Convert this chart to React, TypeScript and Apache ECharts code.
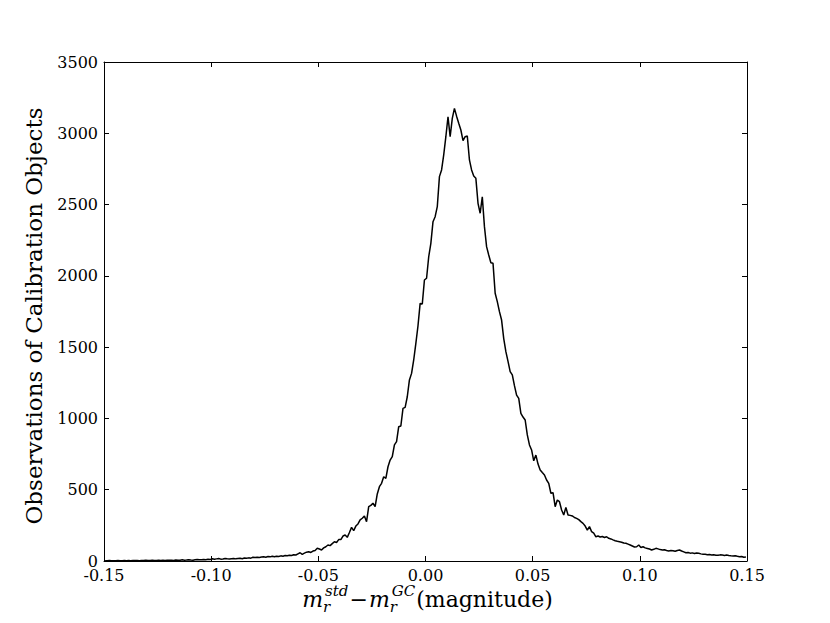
import { useEffect, useRef } from "react";
import * as echarts from "echarts";

// Histogram: bins of width 0.001 from -0.15 to 0.15 (300 bins)
const binStart = -0.15;
const binWidth = 0.001;

const counts: number[] = [
  // -0.1495 .. -0.1005
  2, 1, 3, 2, 1, 2, 3, 1, 2, 4,
  2, 3, 2, 3, 4, 3, 2, 4, 3, 5,
  3, 4, 5, 3, 4, 6, 4, 5, 4, 6,
  5, 6, 4, 7, 5, 6, 8, 6, 7, 9,
  7, 6, 8, 10, 8, 9, 11, 9, 12, 10,
  // -0.0995 .. -0.0805
  16, 12, 15, 18, 13, 14, 17, 15, 14, 16,
  18, 15, 17, 19, 16, 21, 19, 22, 20, 26,
  // -0.0795 .. -0.0605
  24, 27, 25, 28, 30, 27, 31, 29, 33, 30,
  34, 32, 36, 34, 38, 37, 41, 39, 44, 42,
  // -0.0595 .. -0.0405
  50, 58, 47, 55, 62, 65, 60, 70, 74, 89,
  84, 77, 92, 100, 112, 108, 122, 135, 130, 150,
  // -0.0395 .. -0.0205
  150, 175, 182, 166, 200, 236, 213, 245, 260, 288,
  300, 316, 276, 381, 390, 405, 381, 470, 521, 545,
  // -0.0195 .. -0.0005
  591, 580, 661, 708, 732, 814, 837, 942, 947, 1071,
  1078, 1152, 1270, 1316, 1410, 1527, 1650, 1807, 1803, 1971,
  // 0.0005 .. 0.0195
  1983, 2134, 2228, 2380, 2415, 2485, 2696, 2743, 2848, 2976,
  3116, 2976, 3105, 3175, 3120, 3070, 3023, 2948, 2976, 2981,
  // 0.0205 .. 0.0395
  2813, 2743, 2700, 2684, 2509, 2439, 2555, 2345, 2205, 2146,
  2092, 2088, 1878, 1819, 1749, 1690, 1560, 1468, 1400, 1328,
  // 0.0405 .. 0.0595
  1305, 1230, 1164, 1141, 1036, 1010, 989, 884, 814, 779,
  703, 743, 680, 638, 620, 603, 568, 545, 475, 479,
  // 0.0605 .. 0.0795
  381, 428, 416, 358, 323, 376, 323, 320, 316, 305,
  299, 290, 276, 264, 245, 217, 241, 206, 195, 170,
  // 0.0805 .. 0.0995
  175, 168, 172, 165, 170, 159, 155, 148, 142, 138,
  135, 132, 126, 124, 118, 112, 105, 98, 100, 112,
  // 0.1005 .. 0.1195
  95, 100, 92, 88, 84, 77, 82, 89, 85, 80,
  77, 79, 74, 70, 73, 72, 68, 74, 77, 70,
  // 0.1205 .. 0.1495
  64, 58, 60, 55, 57, 52, 56, 54, 50, 48,
  47, 44, 46, 42, 44, 41, 40, 43, 42, 39,
  42, 38, 36, 35, 37, 33, 30, 32, 26, 28,
];

const xMin = -0.15;
const xMax = 0.15;
const xInterval = 0.05;
const yMin = 0;
const yMax = 3500;
const yInterval = 500;

const yTitle = "Observations of Calibration Objects";

const SERIF = '"DejaVu Serif", serif';

export default function App() {
  const ref = useRef<HTMLDivElement>(null);

  useEffect(() => {
    document.body.style.margin = "0";
    const el = ref.current!;
    const chart = echarts.init(el, null, { renderer: "svg" });

    const data = counts.map((c, i) => [binStart + binWidth * (i + 0.5), c]);

    // Build the x-axis mathtext label: m_r^{std} − m_r^{GC}(magnitude)
    const cnv = document.createElement("canvas");
    const ctx = cnv.getContext("2d")!;
    const M = 22;
    const S = 15;
    const measure = (t: string, size: number, italic: boolean) => {
      ctx.font = `${italic ? "italic " : ""}${size}px "DejaVu Serif"`;
      return ctx.measureText(t).width;
    };
    type Piece = { text: string; size: number; italic: boolean; dy: number; dx: number };
    const mainY = 599;
    const supY = 591;
    const subY = 607;
    const pieces: { items: Piece[] }[] = [
      { items: [{ text: "m", size: M, italic: true, dy: mainY, dx: 0 }] },
      {
        items: [
          { text: "std", size: S, italic: true, dy: supY, dx: 1 },
          { text: "r", size: S, italic: true, dy: subY, dx: -1 },
        ],
      },
      { items: [{ text: "\u2212", size: M, italic: false, dy: mainY, dx: 0 }] },
      { items: [{ text: "m", size: M, italic: true, dy: mainY, dx: 0 }] },
      {
        items: [
          { text: "GC", size: S, italic: true, dy: supY, dx: 1 },
          { text: "r", size: S, italic: true, dy: subY, dx: -1 },
        ],
      },
      { items: [{ text: "(magnitude)", size: M, italic: false, dy: mainY, dx: 0 }] },
    ];
    let total = 0;
    const widths = pieces.map((p) => {
      const w = Math.max(...p.items.map((it) => measure(it.text, it.size, it.italic) + it.dx));
      total += w + 1;
      return w + 1;
    });
    let cx = 428 - total / 2;
    const labelEls: any[] = [];
    pieces.forEach((p, i) => {
      p.items.forEach((it) => {
        labelEls.push({
          type: "text",
          x: cx + it.dx,
          y: it.dy,
          silent: true,
          style: {
            text: it.text,
            font: `${it.italic ? "italic " : ""}${it.size}px ${SERIF}`,
            fill: "#000",
            align: "left",
            verticalAlign: "middle",
          },
        });
      });
      cx += widths[i];
    });

    const fmtX = (v: number) => (Math.abs(v) < 1e-9 ? "0.00" : v.toFixed(2));
    const fmtY = (v: number) => String(Math.round(v));

    const axisCommon = {
      axisLine: { show: true, onZero: false, lineStyle: { color: "#000", width: 1 } },
      axisTick: { show: true, inside: true, length: 5, lineStyle: { color: "#000", width: 1 } },
      splitLine: { show: false },
    };

    chart.setOption({
      animation: false,
      backgroundColor: "#fff",
      grid: { left: 104, right: 83, top: 62, bottom: 62, containLabel: false },
      xAxis: [
        {
          type: "value",
          position: "bottom",
          min: xMin,
          max: xMax,
          interval: xInterval,
          ...axisCommon,
          axisLabel: {
            show: true,
            margin: 6,
            formatter: fmtX,
            color: "#000",
            fontFamily: SERIF,
            fontSize: 16,
          },
        },
        {
          type: "value",
          position: "top",
          min: xMin,
          max: xMax,
          interval: xInterval,
          ...axisCommon,
          axisLabel: { show: false },
        },
      ],
      yAxis: [
        {
          type: "value",
          position: "left",
          min: yMin,
          max: yMax,
          interval: yInterval,
          ...axisCommon,
          axisLabel: {
            show: true,
            margin: 6,
            formatter: fmtY,
            color: "#000",
            fontFamily: SERIF,
            fontSize: 16,
          },
        },
        {
          type: "value",
          position: "right",
          min: yMin,
          max: yMax,
          interval: yInterval,
          ...axisCommon,
          axisLabel: { show: false },
        },
      ],
      series: [
        {
          type: "line",
          xAxisIndex: 0,
          yAxisIndex: 0,
          data,
          showSymbol: false,
          symbol: "none",
          lineStyle: { color: "#000", width: 1.5 },
          clip: true,
          z: 5,
        },
      ],
      graphic: [
        {
          type: "text",
          x: 34,
          y: 316,
          rotation: Math.PI / 2,
          silent: true,
          style: {
            text: yTitle,
            font: `23px ${SERIF}`,
            fill: "#000",
            align: "center",
            verticalAlign: "middle",
          },
        },
        ...labelEls,
      ],
    });

    return () => chart.dispose();
  }, []);

  return <div ref={ref} style={{ width: 830, height: 623 }} />;
}
